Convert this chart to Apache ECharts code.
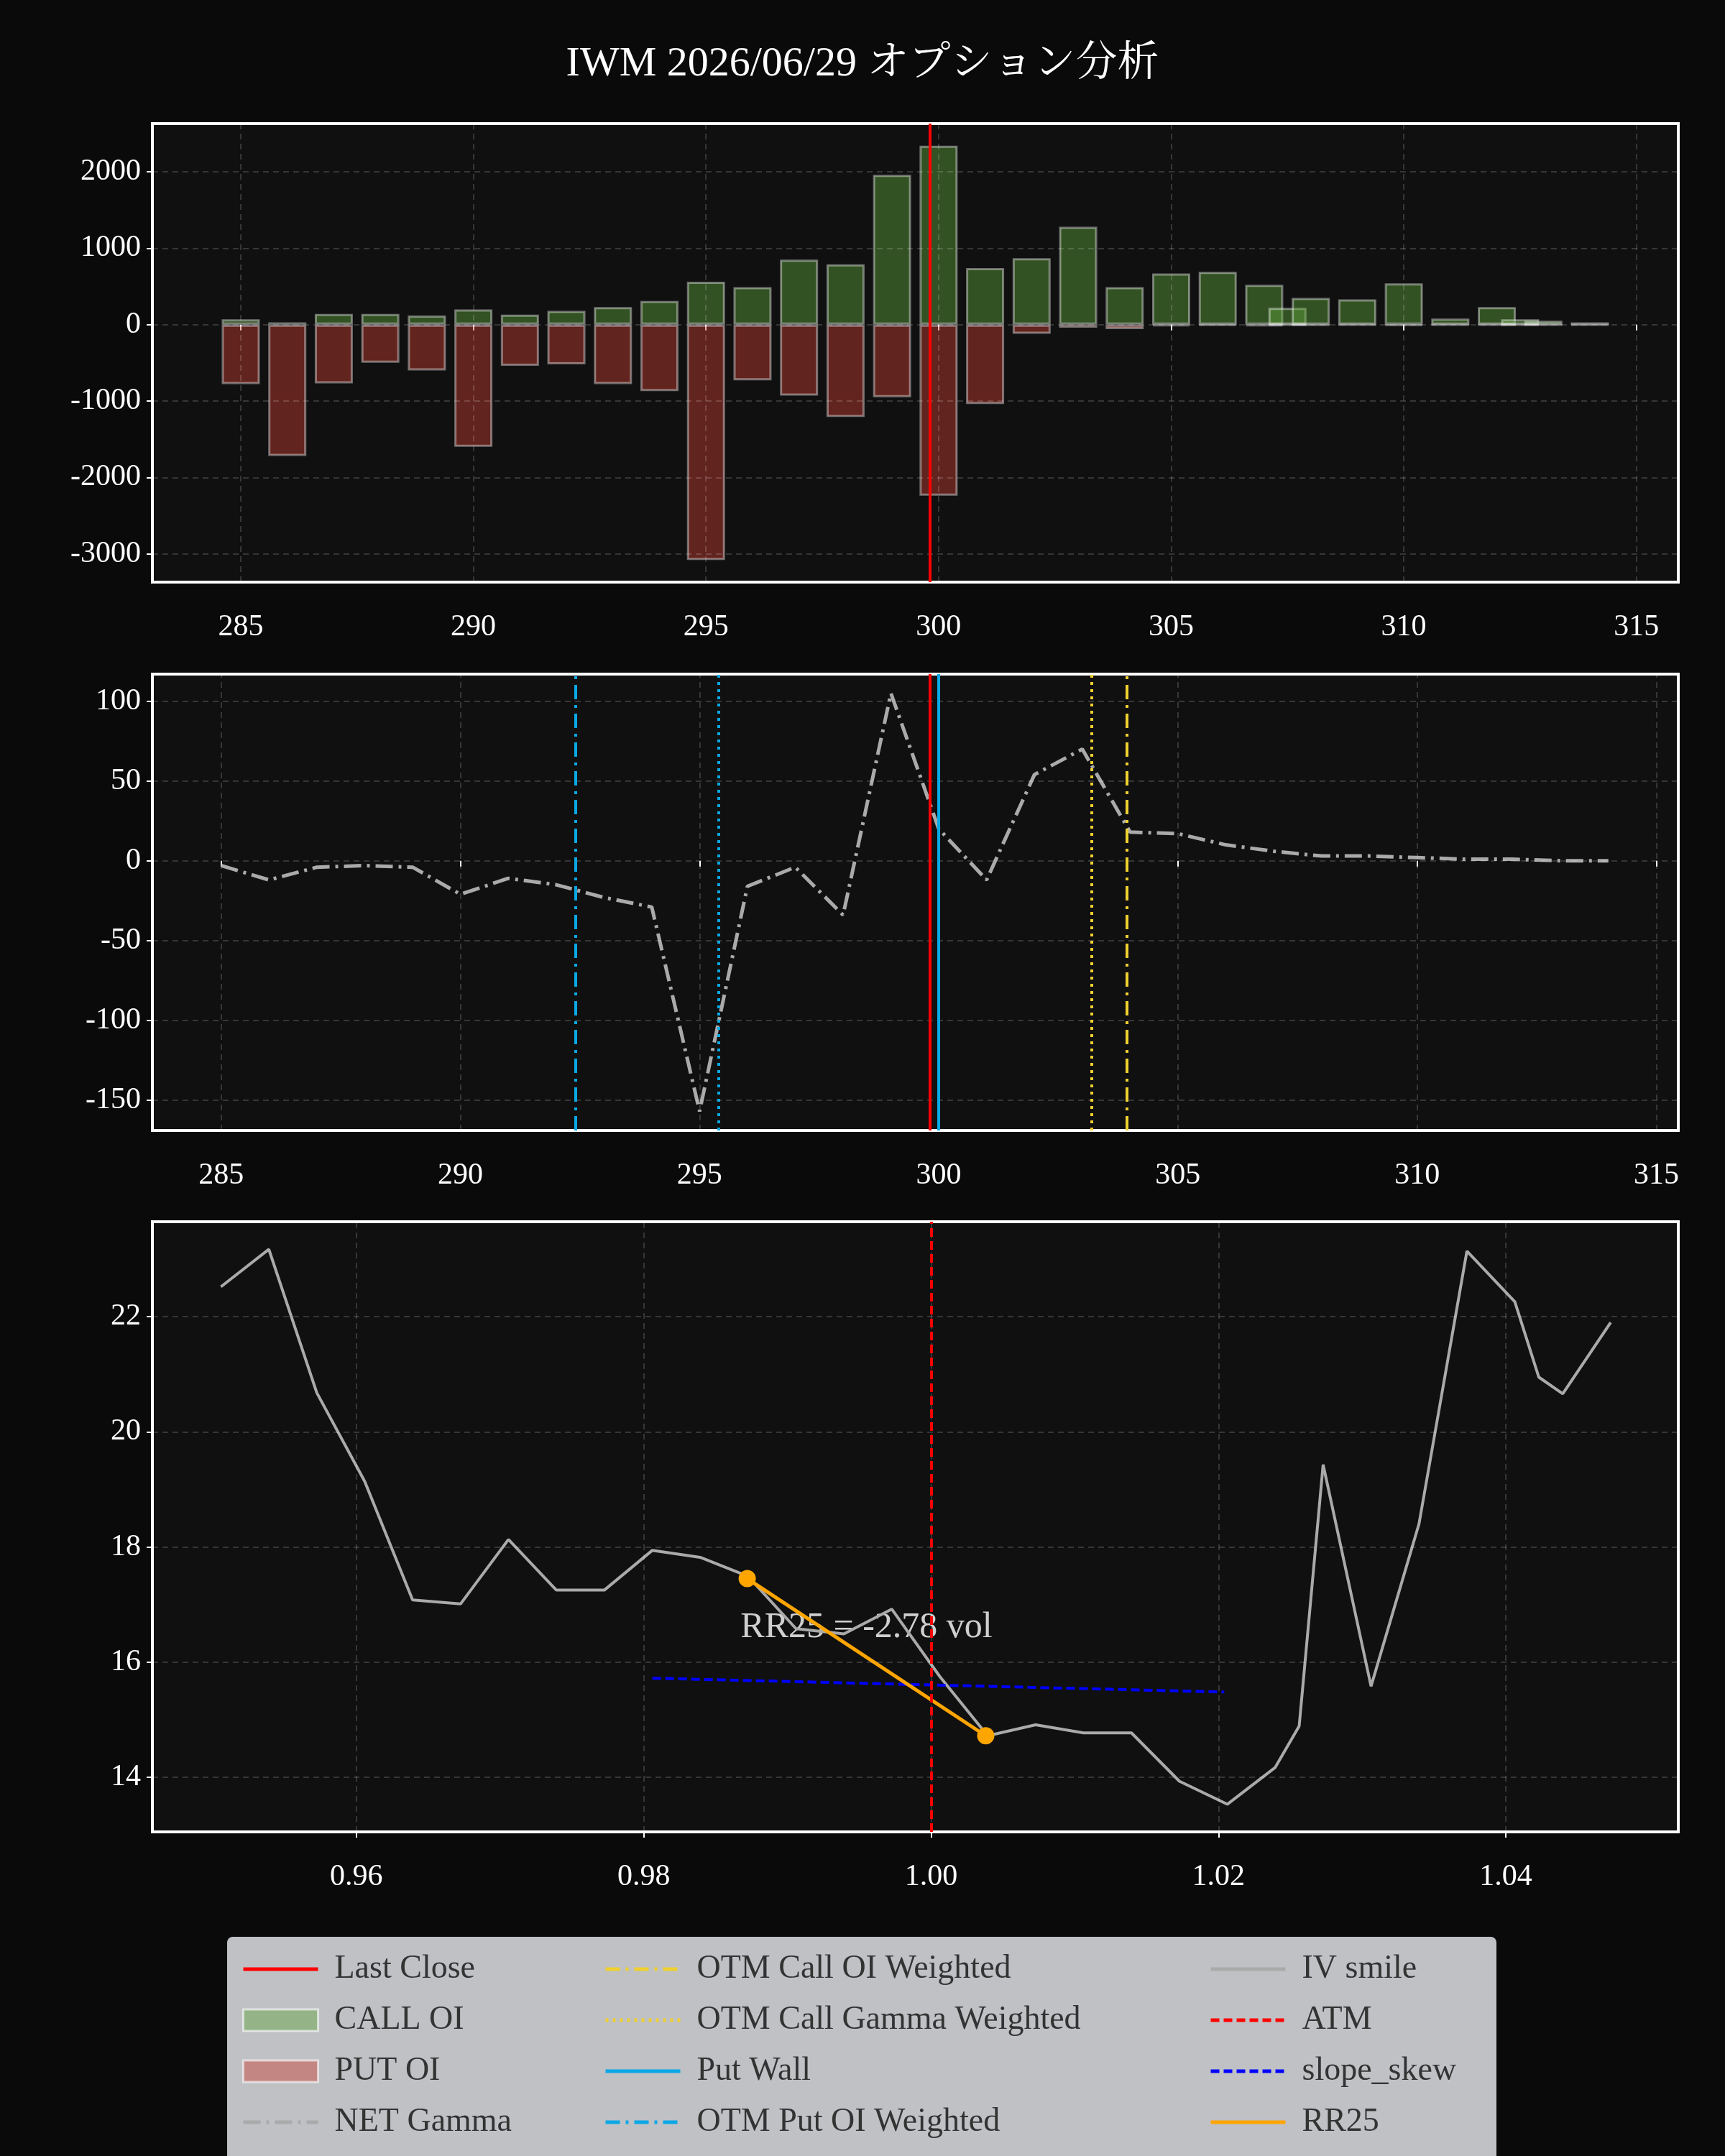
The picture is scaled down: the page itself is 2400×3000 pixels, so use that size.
<!DOCTYPE html>
<html>
<head>
<meta charset="utf-8">
<script src="https://cdn.jsdelivr.net/npm/echarts@6/dist/echarts.min.js"></script>
<style>
  html, body { margin: 0; padding: 0; background: #0a0a0a; }
  #chart { width: 2400px; height: 3000px; }
</style>
</head>
<body>
<div id="chart"></div>
<script>
// strikes and open interest
var strikes = [285, 286, 287, 288, 289, 290, 291, 292, 293, 294, 295, 296, 297, 298, 299, 300,
  301, 302, 303, 304, 305, 306, 307, 307.5, 308, 309, 310, 311, 312, 312.5, 313, 314];
var callOI = [70, 30, 140, 140, 120, 200, 130, 180, 230, 310, 560, 490, 850, 790, 1960, 2340,
  740, 870, 1280, 490, 670, 690, 520, 220, 350, 330, 540, 80, 230, 70, 50, 30];
var putOI = [-780, -1720, -770, -500, -600, -1600, -540, -520, -780, -870, -3080, -730, -930, -1210, -950, -2240,
  -1040, -120, -40, -60, -20, -10, -20, -5, -10, -5, -15, -5, -5, -5, -5, -5];

// net gamma by strike
var gammaStrikes = [285, 286, 287, 288, 289, 290, 291, 292, 293, 294, 295, 296, 297, 298, 299, 300,
  301, 302, 303, 304, 305, 306, 307, 308, 309, 310, 311, 312, 313, 314];
var netGamma = [-3, -12, -4, -3, -4, -21, -11, -15, -23, -29, -157, -16, -4, -34, 105, 20,
  -12, 54, 70, 18, 17, 10, 6, 3, 3, 2, 1, 1, 0, 0];

// IV smile (x = strike / last close)
var ivSmile = [22.52, 23.17, 20.68, 19.14, 17.08, 17.01, 18.13, 17.25, 17.25, 17.94, 17.82, 17.49, 16.58, 16.49, 16.92, 15.75,
  14.72, 14.91, 14.77, 14.77, 13.93, 13.53, 14.17, 14.89, 19.43, 15.58, 18.4, 23.14, 22.26, 20.95, 20.66, 21.9];

var lastClose = 299.82;
var putWall = 300;
var otmPutOI = 292.4;
var otmPutGamma = 295.4;
var otmCallGamma = 303.2;
var otmCallOI = 303.93;
var slopeSkew = [[0.9806, 15.72], [1.0204, 15.48]];
var rr25 = [[0.9872, 17.45], [1.0038, 14.72]];
var rr25Text = "RR25 = -2.78 vol";

var xTicks1 = [285, 290, 295, 300, 305, 310, 315];
var yTicks1 = [-3000, -2000, -1000, 0, 1000, 2000];
var yTicks2 = [-150, -100, -50, 0, 50, 100];
var xTicks3 = [0.96, 0.98, 1.0, 1.02, 1.04];
var yTicks3 = [14, 16, 18, 20, 22];

var font = "'Liberation Serif', 'Noto Serif CJK JP', 'Noto Sans CJK JP', serif";
var chart = echarts.init(document.getElementById("chart"));

var gridLine = { color: "rgba(255,255,255,0.16)", type: [8, 6], width: 2 };

function gridSeries(idx, xs, ys) {
  var lines = [];
  xs.forEach(function(v) { lines.push({ xAxis: v }); });
  ys.forEach(function(v) { lines.push({ yAxis: v }); });
  return {
    type: "line", xAxisIndex: idx, yAxisIndex: idx, data: [], silent: true, z: 0,
    markLine: { silent: true, symbol: "none", label: { show: false }, lineStyle: gridLine, data: lines, animation: false }
  };
}

function vline(name, idx, x, color, type, width) {
  return {
    name: name, type: "line", xAxisIndex: idx, yAxisIndex: idx, data: [], symbol: "none",
    lineStyle: { color: color, type: type, width: width }, itemStyle: { color: color },
    markLine: { silent: true, symbol: "none", label: { show: false }, animation: false,
      lineStyle: { color: color, type: type, width: width }, data: [{ xAxis: x }] }
  };
}

function xAxis(idx, min, max, ticks, fmt) {
  return {
    type: "value", gridIndex: idx, min: min, max: max,
    axisLine: { show: false }, splitLine: { show: false },
    axisTick: { show: true, length: 8, lineStyle: { color: "#fff", width: 2 }, customValues: ticks },
    axisLabel: { color: "#fff", fontSize: 42, fontFamily: font, margin: 42, customValues: ticks,
      formatter: fmt || function(v) { return String(v); } }
  };
}

function yAxis(idx, min, max, ticks) {
  return {
    type: "value", gridIndex: idx, min: min, max: max,
    axisLine: { show: false }, splitLine: { show: false },
    axisTick: { show: true, length: 8, lineStyle: { color: "#fff", width: 2 }, customValues: ticks },
    axisLabel: { color: "#fff", fontSize: 42, fontFamily: font, margin: 16, customValues: ticks,
      formatter: function(v) { return String(v); } }
  };
}

// legend entries: lines without the dot, bars as plain rects
var noDot = { color: "transparent", borderColor: "transparent", borderWidth: 0 };
function lineItem(name) { return { name: name, itemStyle: noDot, lineStyle: { width: 5 } }; }
function barItem(name) { return { name: name, icon: "rect", itemStyle: { borderColor: "rgba(255,255,255,0.6)", borderWidth: 3 } }; }

function legendCol(left, items) {
  return {
    left: left, top: 2712, orient: "vertical", itemWidth: 104, itemHeight: 30, itemGap: 25,
    textStyle: { color: "#333", fontSize: 46, fontFamily: font, padding: [0, 0, 0, 18] },
    data: items
  };
}

var gridStyle = { show: true, backgroundColor: "#101010", borderColor: "#ffffff", borderWidth: 4 };

var option = {
  backgroundColor: "#0a0a0a",
  animation: false,
  textStyle: { fontFamily: font },
  title: {
    text: "IWM 2026/06/29 オプション分析", left: "center", top: 56,
    textStyle: { color: "#fff", fontSize: 58, fontWeight: "normal", fontFamily: font }
  },
  graphic: [{
    type: "rect", left: 316, top: 2695, z: -1,
    shape: { width: 1766, height: 330, r: 8 },
    style: { fill: "#bfc1c5" }
  }],
  legend: [
    legendCol(331, [lineItem("Last Close"), barItem("CALL OI"), barItem("PUT OI"), lineItem("NET Gamma")]),
    legendCol(835, [lineItem("OTM Call OI Weighted"), lineItem("OTM Call Gamma Weighted"), lineItem("Put Wall"), lineItem("OTM Put OI Weighted")]),
    legendCol(1677, [lineItem("IV smile"), lineItem("ATM"), lineItem("slope_skew"), lineItem("RR25")])
  ],
  grid: [
    Object.assign({ left: 212, width: 2123, top: 172, height: 638 }, gridStyle),
    Object.assign({ left: 212, width: 2123, top: 938, height: 635 }, gridStyle),
    Object.assign({ left: 212, width: 2123, top: 1700, height: 849 }, gridStyle)
  ],
  xAxis: [
    xAxis(0, 283.1, 315.9, xTicks1),
    xAxis(1, 283.56, 315.46, xTicks1),
    xAxis(2, 0.9458, 1.052, xTicks3, function(v) { return v.toFixed(2); })
  ],
  yAxis: [
    yAxis(0, -3370, 2630, yTicks1),
    yAxis(1, -169, 117, yTicks2),
    yAxis(2, 13.05, 23.65, yTicks3)
  ],
  series: [
    gridSeries(0, xTicks1, yTicks1),
    gridSeries(1, xTicks1, yTicks2),
    gridSeries(2, xTicks3, yTicks3),
    {
      name: "CALL OI", type: "bar", xAxisIndex: 0, yAxisIndex: 0, barWidth: 53, barGap: "-100%",
      itemStyle: { color: "rgba(95,165,60,0.45)", borderColor: "rgba(255,255,255,0.4)", borderWidth: 3 },
      data: strikes.map(function(s, i) { return [s, callOI[i]]; })
    },
    {
      name: "PUT OI", type: "bar", xAxisIndex: 0, yAxisIndex: 0, barWidth: 53, barGap: "-100%",
      itemStyle: { color: "rgba(200,62,52,0.45)", borderColor: "rgba(255,255,255,0.4)", borderWidth: 3 },
      data: strikes.map(function(s, i) { return [s, putOI[i]]; })
    },
    vline("Last Close", 0, lastClose, "#ff0000", "solid", 4),
    {
      name: "NET Gamma", type: "line", xAxisIndex: 1, yAxisIndex: 1, symbol: "none",
      lineStyle: { color: "#aaaaaa", width: 5, type: [24, 8, 4, 8] }, itemStyle: { color: "#aaaaaa" },
      data: gammaStrikes.map(function(s, i) { return [s, netGamma[i]]; })
    },
    vline("Last Close", 1, lastClose, "#ff0000", "solid", 4),
    vline("Put Wall", 1, putWall, "#0aa8e6", "solid", 4),
    vline("OTM Put OI Weighted", 1, otmPutOI, "#0aa8e6", [20, 8, 4, 8], 4),
    vline("OTM Put Gamma Weighted", 1, otmPutGamma, "#0aa8e6", [4, 6], 4),
    vline("OTM Call Gamma Weighted", 1, otmCallGamma, "#f0d030", [4, 6], 4),
    vline("OTM Call OI Weighted", 1, otmCallOI, "#f0d030", [20, 8, 4, 8], 4),
    {
      name: "IV smile", type: "line", xAxisIndex: 2, yAxisIndex: 2, symbol: "none",
      lineStyle: { color: "#aaaaaa", width: 4 }, itemStyle: { color: "#aaaaaa" },
      data: strikes.map(function(s, i) { return [s / lastClose, ivSmile[i]]; })
    },
    vline("ATM", 2, 1.0, "#ff0000", [12, 6], 4),
    {
      name: "slope_skew", type: "line", xAxisIndex: 2, yAxisIndex: 2, symbol: "none",
      lineStyle: { color: "#0000ff", width: 4, type: [12, 6] }, itemStyle: { color: "#0000ff" },
      data: slopeSkew
    },
    {
      name: "RR25", type: "line", xAxisIndex: 2, yAxisIndex: 2, symbol: "circle", symbolSize: 24,
      lineStyle: { color: "#ffa500", width: 5 }, itemStyle: { color: "#ffa500" },
      data: rr25
    },
    {
      type: "scatter", xAxisIndex: 2, yAxisIndex: 2, symbolSize: 0, silent: true,
      label: { show: true, position: "inside", formatter: rr25Text, color: "#fff", fontSize: 50, fontFamily: font },
      data: [[0.9955, 16.6]]
    }
  ]
};

chart.setOption(option);
</script>
</body>
</html>
